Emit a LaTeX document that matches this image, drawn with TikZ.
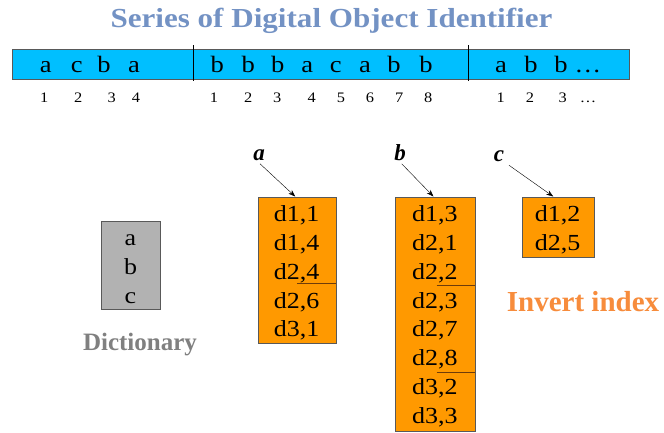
\documentclass[tikz,border=0pt]{standalone}
\usepackage{fontspec}
\setmainfont{Liberation Serif}
\newfontfamily\widefont[FakeStretch=1.13]{Liberation Serif}
\usetikzlibrary{arrows.meta}
\definecolor{seriesblue}{RGB}{0,191,255}
\definecolor{postorange}{RGB}{255,153,0}
\definecolor{dictgray}{RGB}{178,178,178}
\definecolor{titleblue}{RGB}{115,146,196}
\definecolor{invorange}{RGB}{247,140,60}
\definecolor{rulebrown}{RGB}{110,60,10}
\tikzset{
    idbox/.style={draw=black!65, fill=postorange, anchor=north west, inner sep=0pt},
    entry/.style={anchor=base, font=\widefont\fontsize{23}{23}\selectfont},
    seq/.style={anchor=base, font=\widefont\fontsize{23.5}{23.5}\selectfont},
    posnum/.style={anchor=base, font=\widefont\fontsize{14.5}{14.5}\selectfont},
    lbl/.style={anchor=base, font=\bfseries\itshape\fontsize{23}{23}\selectfont},
    ptr/.style={-{Stealth[length=7pt,width=5pt]}, thin},
}
\begin{document}
\begin{tikzpicture}[x=1pt, y=-1pt]
            \useasboundingbox (0,0) rectangle (664,432);
            \node[anchor=base, text=titleblue, font=\widefont\bfseries\fontsize{27.5}{27.5}\selectfont] (title) at (331.5,27.3) {Series of Digital Object Identifier};

            \filldraw[fill=seriesblue, draw=black!65] (12,49) rectangle (629,79);
            \draw (193,45) -- (193,81);
            \draw (468,45) -- (468,81);
            \foreach \x/\t [count=\i] in {45.7/a, 76.7/c, 104/b, 134/a,
                217.3/b, 248.3/b, 277.7/b, 307.3/a, 335.7/c, 365/a, 394/b, 426/b,
                501/a, 531/b, 561/b, 588/\ldots}
                \node[seq] (l\i) at (\x,72.3) {\t};
            \foreach \x/\t [count=\i] in {44.3/1, 78.3/2, 111.7/3, 136/4,
                214/1, 248.3/2, 277.3/3, 311.7/4, 341/5, 370/6, 399.3/7, 428.3/8,
                500.7/1, 530/2, 562.7/3, 588/\ldots}
                \node[posnum] (n\i) at (\x,102.7) {\t};

            \node[draw=black!65, fill=dictgray, anchor=north west, inner sep=0pt, minimum width=59pt, minimum height=88pt] (dict) at (101,221) {};
            \foreach \t [count=\i from 0] in {a, b, c}
                \node[entry] (d\i) at (130.5,245.5+29*\i) {\t};
            \node[anchor=base, text=gray, font=\bfseries\fontsize{25}{25}\selectfont] (dictname) at (140,350) {Dictionary};

            \node[idbox, minimum width=78pt, minimum height=146pt] (boxa) at (257.5,196.5) {};
            \node[idbox, minimum width=80.5pt, minimum height=234pt] (boxb) at (394.5,196.5) {};
            \node[idbox, minimum width=72pt, minimum height=60pt] (boxc) at (521.5,196.5) {};
            \foreach \t [count=\i from 0] in {{d1,1}, {d1,4}, {d2,4}, {d2,6}, {d3,1}}
                \node[entry] (a\i) at (boxa.center |- 0,221.7+28.8*\i) {\t};
            \foreach \t [count=\i from 0] in {{d1,3}, {d2,1}, {d2,2}, {d2,3}, {d2,7}, {d2,8}, {d3,2}, {d3,3}}
                \node[entry] (b\i) at (boxb.center |- 0,221.7+28.8*\i) {\t};
            \foreach \t [count=\i from 0] in {{d1,2}, {d2,5}}
                \node[entry] (c\i) at (boxc.center |- 0,221.7+28.6*\i) {\t};
            \draw[rulebrown] (297,283.5) -- (boxa.east |- 0,283.5);
            \draw[rulebrown] (436.7,285) -- (boxb.east |- 0,285);
            \draw[rulebrown] (436.7,372.3) -- (boxb.east |- 0,372.3);

            \node[lbl] (la) at (259,160) {a};
            \node[lbl] (lb) at (400,160) {b};
            \node[lbl] (lc) at (499,161.5) {c};
            \draw[ptr] ([xshift=1pt]la.south) -- ([xshift=-1.5pt]boxa.north);
            \draw[ptr] ([xshift=1.7pt]lb.south) -- ([xshift=-1.5pt]boxb.north);
            \draw[ptr] ([xshift=10pt]lc.south) -- ([xshift=-4.5pt]boxc.north);

            \node[anchor=base, text=invorange, font=\bfseries\fontsize{29}{29}\selectfont] (invname) at (583,311.7) {Invert index};
        \end{tikzpicture}
\end{document}
